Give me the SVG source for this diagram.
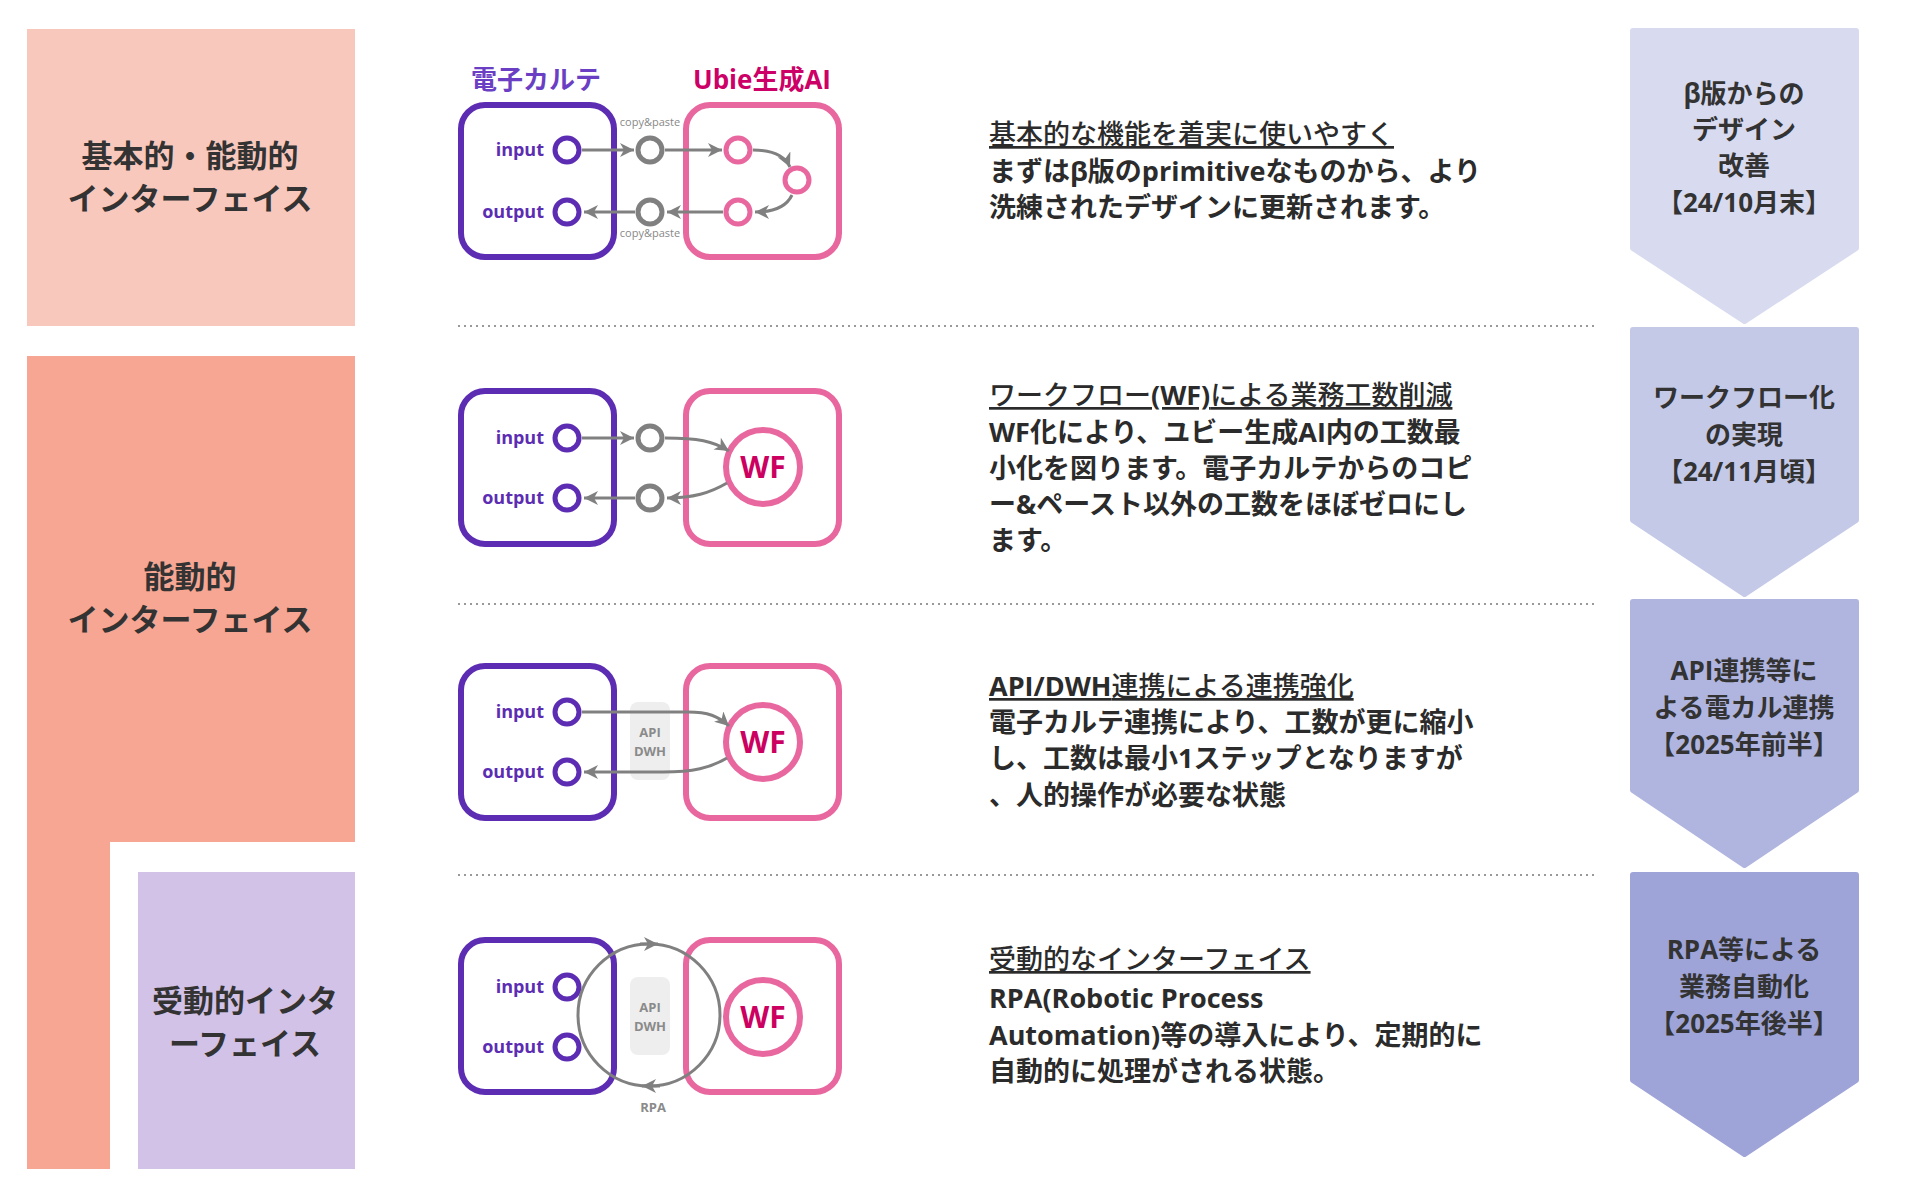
<svg xmlns="http://www.w3.org/2000/svg" width="1914" height="1196" viewBox="0 0 1914 1196">
<style>
.jp{font-family:"Open Sans","Noto Sans CJK JP",sans-serif;}
.lbl{font-family:"Open Sans","Noto Sans CJK JP",sans-serif;font-weight:700;font-size:31px;fill:#333;text-anchor:middle;}
.chev{font-family:"Open Sans","Noto Sans CJK JP",sans-serif;font-weight:700;font-size:26px;fill:#333;text-anchor:middle;}
.ttl{font-family:"Open Sans","Noto Sans CJK JP",sans-serif;font-weight:500;font-size:27px;fill:#2b2b2b;text-decoration:underline;}
.b{font-weight:700;}
.body{font-family:"Open Sans","Noto Sans CJK JP",sans-serif;font-weight:700;font-size:27px;fill:#2b2b2b;}
.pbox{fill:#fff;stroke:#5c2db3;stroke-width:6;}
.kbox{fill:#fff;stroke:#e8679f;stroke-width:6;}
.pc{fill:#fff;stroke:#5c2db3;stroke-width:5;}
.kc{fill:#fff;stroke:#e8679f;stroke-width:5;}
.gc{fill:#fff;stroke:#808080;stroke-width:5;}
.wf{fill:#fff;stroke:#e8679f;stroke-width:6;}
.wft{font-family:"Open Sans","Noto Sans CJK JP",sans-serif;font-weight:700;font-size:30px;fill:#cc0060;text-anchor:middle;}
.io{font-family:"Open Sans",sans-serif;font-weight:700;font-size:18px;fill:#5c2db3;text-anchor:end;}
.cp{font-family:"Open Sans",sans-serif;font-size:11px;fill:#888;text-anchor:middle;}
.gl{font-family:"Open Sans",sans-serif;font-weight:700;font-size:13px;fill:#8a8a8a;text-anchor:middle;}
.arr{fill:none;stroke:#808080;stroke-width:3;marker-end:url(#ah);}
.dot{stroke:#999;stroke-width:2;stroke-dasharray:2 4;}
</style>
<defs>
<marker id="ah" markerUnits="userSpaceOnUse" markerWidth="16" markerHeight="14" refX="14" refY="7" orient="auto">
<path d="M0,0 L14,7 L0,14 L4,7 z" fill="#808080"/>
</marker>
</defs>
<rect width="1914" height="1196" fill="#fff"/>

<!-- left column -->
<g id="left-basic">
<rect x="27" y="29" width="328" height="297" fill="#f9c8bd"/>
<text class="lbl" x="190" y="167">基本的・能動的</text>
<text class="lbl" x="190" y="210">インターフェイス</text>
</g>
<g id="left-active">
<path d="M27,356 H355 V842 H110 V1169 H27 Z" fill="#f6a692"/>
<text class="lbl" x="190" y="588">能動的</text>
<text class="lbl" x="190" y="631">インターフェイス</text>
</g>
<g id="left-passive">
<rect x="138" y="872" width="217" height="297" fill="#d2c2e8"/>
<text class="lbl" x="245" y="1012">受動的インタ</text>
<text class="lbl" x="245" y="1055">ーフェイス</text>
</g>

<!-- dotted separators -->
<g id="separators">
<line class="dot" x1="458" y1="326" x2="1594" y2="326"/>
<line class="dot" x1="458" y1="604" x2="1594" y2="604"/>
<line class="dot" x1="458" y1="875" x2="1594" y2="875"/>
</g>

<!-- diagram 1 -->
<g id="diagram1">
<text class="jp" x="536" y="89" font-size="26" font-weight="700" fill="#6b3fc4" text-anchor="middle">電子カルテ</text>
<text class="jp" x="762" y="89" font-size="26" font-weight="700" fill="#cc0066" text-anchor="middle">Ubie生成AI</text>
<rect class="pbox" x="461" y="105" width="153" height="152" rx="24"/>
<rect class="kbox" x="686" y="105" width="153" height="152" rx="24"/>
<text class="io" x="544" y="156">input</text>
<text class="io" x="544" y="218">output</text>
<circle class="pc" cx="567" cy="150" r="12"/>
<circle class="pc" cx="567" cy="212" r="12"/>
<circle class="gc" cx="650" cy="150" r="12"/>
<circle class="gc" cx="650" cy="212" r="12"/>
<circle class="kc" cx="738" cy="150" r="12"/>
<circle class="kc" cx="738" cy="212" r="12"/>
<circle class="kc" cx="797" cy="180" r="12"/>
<text class="cp" x="650" y="126">copy&amp;paste</text>
<text class="cp" x="650" y="237">copy&amp;paste</text>
</g>

<!-- diagram 2 -->
<g id="diagram2">
<rect class="pbox" x="461" y="391" width="153" height="153" rx="24"/>
<rect class="kbox" x="686" y="391" width="153" height="153" rx="24"/>
<text class="io" x="544" y="444">input</text>
<text class="io" x="544" y="504">output</text>
<circle class="pc" cx="567" cy="438" r="12"/>
<circle class="pc" cx="567" cy="498" r="12"/>
<circle class="gc" cx="650" cy="438" r="12"/>
<circle class="gc" cx="650" cy="498" r="12"/>
<circle class="wf" cx="763" cy="467" r="37"/>
<text class="wft" x="763" y="478">WF</text>
</g>

<!-- diagram 3 -->
<g id="diagram3">
<rect class="pbox" x="461" y="666" width="153" height="152" rx="24"/>
<rect class="kbox" x="686" y="666" width="153" height="152" rx="24"/>
<rect x="630" y="702" width="40" height="78" rx="8" fill="#eeeeee"/>
<text class="gl" x="650" y="737">API</text>
<text class="gl" x="650" y="756">DWH</text>
<text class="io" x="544" y="718">input</text>
<text class="io" x="544" y="778">output</text>
<circle class="pc" cx="567" cy="712" r="12"/>
<circle class="pc" cx="567" cy="772" r="12"/>
<circle class="wf" cx="763" cy="742" r="37"/>
<text class="wft" x="763" y="753">WF</text>
</g>

<!-- diagram 4 -->
<g id="diagram4">
<rect class="pbox" x="461" y="940" width="153" height="152" rx="24"/>
<rect class="kbox" x="686" y="940" width="153" height="152" rx="24"/>
<rect x="630" y="977" width="40" height="78" rx="8" fill="#eeeeee"/>
<text class="gl" x="650" y="1012">API</text>
<text class="gl" x="650" y="1031">DWH</text>
<text class="io" x="544" y="993">input</text>
<text class="io" x="544" y="1053">output</text>
<circle class="pc" cx="567" cy="987" r="12"/>
<circle class="pc" cx="567" cy="1047" r="12"/>
<circle class="wf" cx="763" cy="1017" r="37"/>
<text class="wft" x="763" y="1028">WF</text>
<text class="gl" x="653" y="1112">RPA</text>
</g>

<!-- connectors -->
<g id="connectors">
<path class="arr" d="M582,150 L634,150"/>
<path class="arr" d="M665,150 L722,150"/>
<path class="arr" d="M753,150 Q782,150 790,167"/>
<path class="arr" d="M792,195 Q784,212 755,212"/>
<path class="arr" d="M723,212 L667,212"/>
<path class="arr" d="M635,212 L584,212"/>

<path class="arr" d="M582,438 L634,438"/>
<path class="arr" d="M665,438 C698,438 713,441 729,451"/>
<path class="arr" d="M727,483 C710,493 693,498 667,498"/>
<path class="arr" d="M635,498 L584,498"/>

<path class="arr" d="M582,712 L688,712 C708,712 718,716 729,726"/>
<path class="arr" d="M727,758 C710,768 693,772 663,772 L584,772"/>

<circle cx="649" cy="1015" r="71" fill="none" stroke="#808080" stroke-width="3"/>
<path class="arr" d="M640,944 L658,944"/>
<path class="arr" d="M660,1086 L642,1086"/>
</g>

<!-- descriptions -->
<g id="desc1">
<text class="ttl" x="989" y="144">基本的な機能を着実に使いやすく</text>
<text class="body" x="989" y="181">まずはβ版のprimitiveなものから、より</text>
<text class="body" x="989" y="217">洗練されたデザインに更新されます。</text>
</g>
<g id="desc2">
<text class="ttl" x="989" y="405">ワークフロー<tspan class="b">(WF)</tspan>による業務工数削減</text>
<text class="body" x="989" y="442">WF化により、ユビー生成AI内の工数最</text>
<text class="body" x="989" y="478">小化を図ります。電子カルテからのコピ</text>
<text class="body" x="989" y="514">ー&amp;ペースト以外の工数をほぼゼロにし</text>
<text class="body" x="989" y="550">ます。</text>
</g>
<g id="desc3">
<text class="ttl" x="989" y="696"><tspan class="b">API/DWH</tspan>連携による連携強化</text>
<text class="body" x="989" y="732">電子カルテ連携により、工数が更に縮小</text>
<text class="body" x="989" y="768">し、工数は最小1ステップとなりますが</text>
<text class="body" x="989" y="805">、人的操作が必要な状態</text>
</g>
<g id="desc4">
<text class="ttl" x="989" y="969">受動的なインターフェイス</text>
<text class="body" x="989" y="1008">RPA(Robotic Process</text>
<text class="body" x="989" y="1045">Automation)等の導入により、定期的に</text>
<text class="body" x="989" y="1081">自動的に処理がされる状態。</text>
</g>

<!-- chevrons -->
<g id="chev1">
<path d="M1633,31 H1856 V248 L1744.5,321 L1633,248 Z" fill="#d8dbf0" stroke="#d8dbf0" stroke-width="6" stroke-linejoin="round"/>
<text class="chev" x="1744" y="103">β版からの</text>
<text class="chev" x="1744" y="139">デザイン</text>
<text class="chev" x="1744" y="175">改善</text>
<text class="chev" x="1744" y="212">【24/10月末】</text>
</g>
<g id="chev2">
<path d="M1633,330 H1856 V520 L1744.5,594 L1633,520 Z" fill="#c4c9e8" stroke="#c4c9e8" stroke-width="6" stroke-linejoin="round"/>
<text class="chev" x="1744" y="407">ワークフロー化</text>
<text class="chev" x="1744" y="444">の実現</text>
<text class="chev" x="1744" y="481">【24/11月頃】</text>
</g>
<g id="chev3">
<path d="M1633,602 H1856 V790 L1744.5,865 L1633,790 Z" fill="#b0b5e0" stroke="#b0b5e0" stroke-width="6" stroke-linejoin="round"/>
<text class="chev" x="1744" y="680">API連携等に</text>
<text class="chev" x="1744" y="717">よる電カル連携</text>
<text class="chev" x="1744" y="754">【2025年前半】</text>
</g>
<g id="chev4">
<path d="M1633,875 H1856 V1080 L1744.5,1154 L1633,1080 Z" fill="#9ea4d8" stroke="#9ea4d8" stroke-width="6" stroke-linejoin="round"/>
<text class="chev" x="1744" y="959">RPA等による</text>
<text class="chev" x="1744" y="996">業務自動化</text>
<text class="chev" x="1744" y="1033">【2025年後半】</text>
</g>
</svg>
